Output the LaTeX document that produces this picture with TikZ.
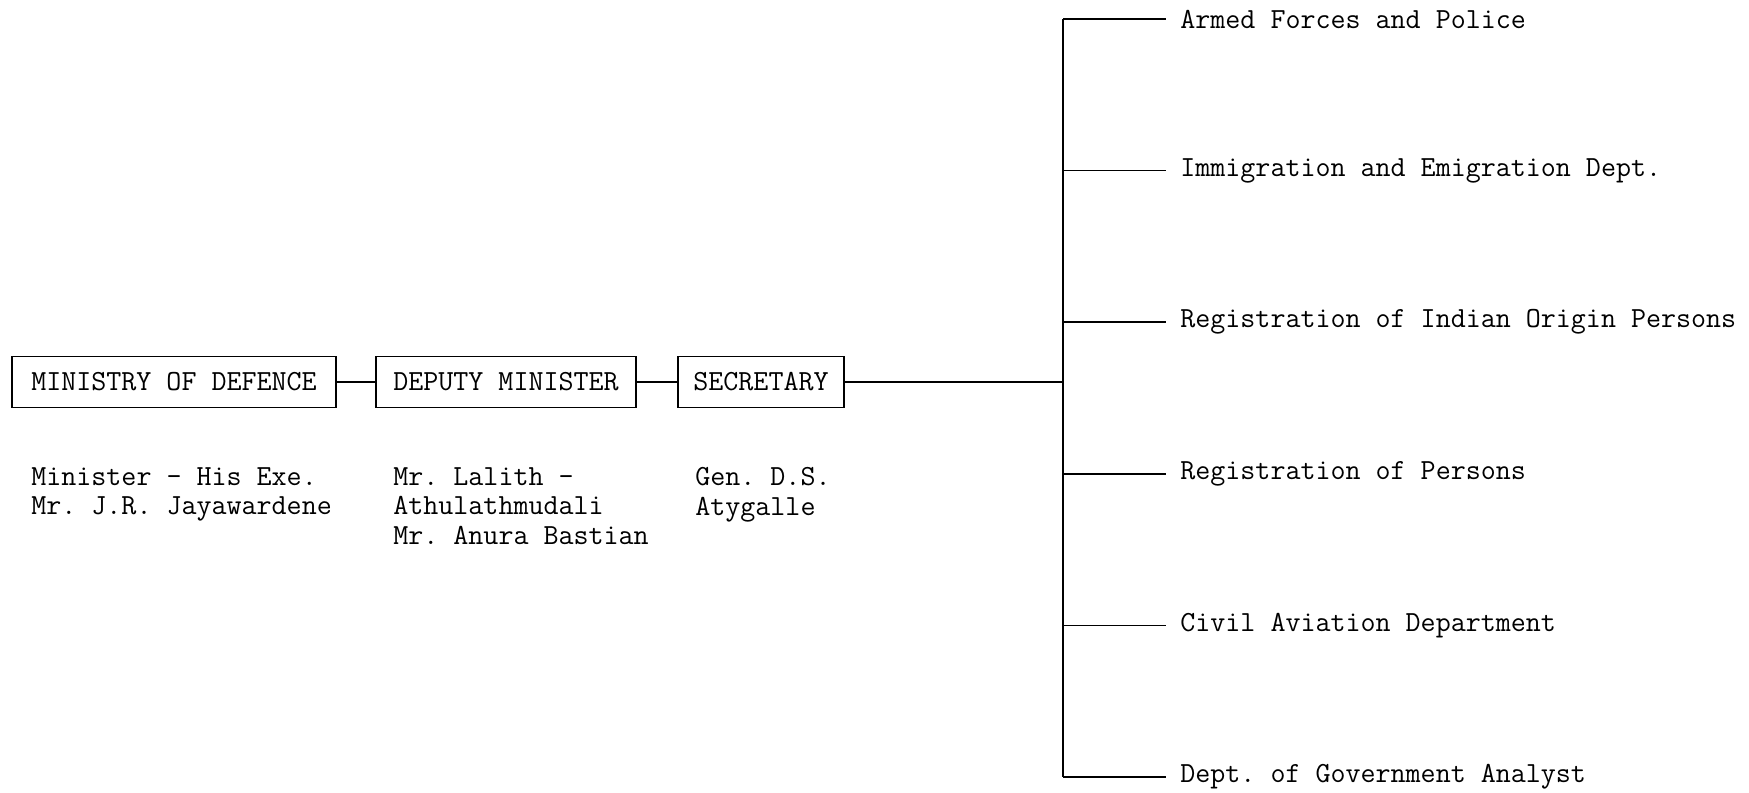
\documentclass[tikz,border=0pt]{standalone}
\usepackage{fontspec}
\usetikzlibrary{positioning}
\frenchspacing
\tikzset{
  box/.style = {draw, line width=.9pt, minimum height=1.02cm, inner xsep=0pt, font=\ttfamily\fontsize{16.6}{16.8}\selectfont},
  names/.style = {anchor=north west, inner sep=0pt, align=left, font=\ttfamily\fontsize{16.6}{16.8}\selectfont},
  unit/.style = {anchor=west, inner xsep=.28cm, inner ysep=0pt, font=\ttfamily\fontsize{16.6}{16.8}\selectfont}
}

\begin{document}
\begin{tikzpicture}
\useasboundingbox (0,0) rectangle (34.98,15.84);
\node[box, minimum width=6.48cm] (mod) at (3.48,8.2) {MINISTRY OF DEFENCE};
\node[box, minimum width=5.2cm] (dep) at (10.12,8.2) {DEPUTY MINISTER};
\node[box, minimum width=3.32cm] (sec) at (15.22,8.2) {SECRETARY};
\node[names] (nmod) at (0.62,6.5) {Minister - His Exe.\\Mr. J.R. Jayawardene};
\node[names] (ndep) at (7.86,6.5) {Mr. Lalith -\\Athulathmudali\\Mr. Anura Bastian};
\node[names] (nsec) at (13.9,6.5) {Gen. D.S.\\Atygalle};
%
%
%
%
\coordinate (jn) at (21.26,8.2);
\coordinate (ja) at (21.26,15.46);
\coordinate (jb) at (21.26,12.43);
\coordinate (jc) at (21.26,9.4);
\coordinate (jd) at (21.26,6.36);
\coordinate (je) at (21.26,3.33);
\coordinate (jf) at (21.26,0.3);
\node[unit] (ua) at (23.32,15.46) {Armed Forces and Police};
\node[unit] (ub) at (23.32,12.43) {Immigration and Emigration Dept.};
\node[unit] (uc) at (23.32,9.4) {Registration of Indian Origin Persons};
\node[unit] (ud) at (23.32,6.36) {Registration of Persons};
\node[unit] (ue) at (23.32,3.33) {Civil Aviation Department};
\node[unit] (uf) at (23.32,0.3) {Dept. of Government Analyst};
%
%
%
%
\draw[line width=.9pt] (mod) -- (dep);
\draw[line width=.9pt] (dep) -- (sec);
\draw[line width=.6pt] (sec) -- (jn);
\draw[line width=.9pt] (ja) -- (jf);
\draw[line width=.7pt] (ja) -- (ua.west);
\draw[line width=.7pt] (jb) -- (ub.west);
\draw[line width=.7pt] (jc) -- (uc.west);
\draw[line width=.7pt] (jd) -- (ud.west);
\draw[line width=.7pt] (je) -- (ue.west);
\draw[line width=.7pt] (jf) -- (uf.west);
\end{tikzpicture}
\end{document}
